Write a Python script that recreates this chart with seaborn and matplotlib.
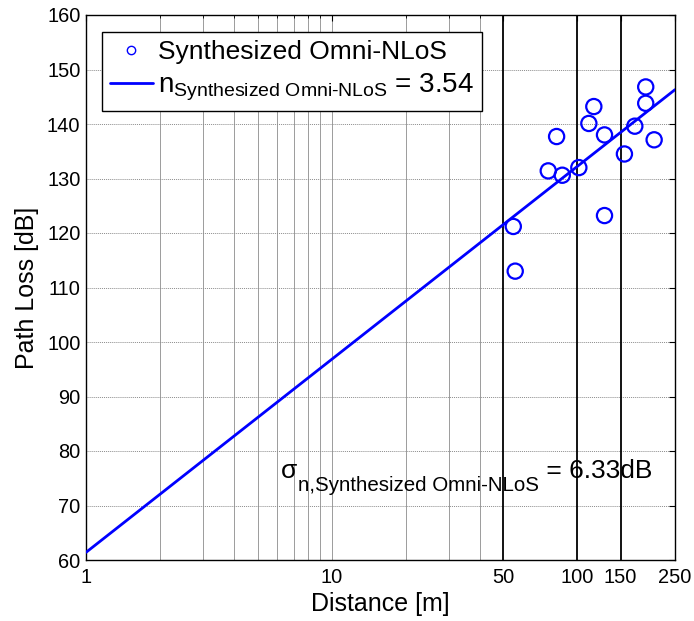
import numpy as np
import pandas as pd
import matplotlib
matplotlib.use("Agg")
import matplotlib.pyplot as plt
import seaborn as sns
from matplotlib.lines import Line2D
from matplotlib.ticker import FixedLocator, NullFormatter

# ---- data ----
distance_m = [54.9, 55.9, 76.2, 82.4, 86.9, 101.5, 111.5, 116.8, 129.1, 129.1,
              155.6, 171.5, 190.0, 190.0, 205.6]
path_loss_db = [121.2, 113.0, 131.4, 137.7, 130.6, 132.0, 140.1, 143.2, 138.0, 123.2,
                134.5, 139.6, 143.8, 146.8, 137.1]
fit_distance = [1, 250]
fit_path_loss = [61.4, 146.3]
x_ticks = [1, 10, 50, 100, 150, 250]
x_minor = [2, 3, 4, 5, 6, 7, 8, 9, 20, 30, 40]
y_ticks = [60, 70, 80, 90, 100, 110, 120, 130, 140, 150, 160]
black_lines = [50, 100, 150]

sns.set_theme(style="white")
plt.rcParams['font.family'] = ['Liberation Sans', 'DejaVu Sans']
plt.rcParams['mathtext.fontset'] = 'custom'
plt.rcParams['mathtext.rm'] = 'Liberation Sans'
plt.rcParams['mathtext.it'] = 'Liberation Sans:italic'
plt.rcParams['mathtext.bf'] = 'Liberation Sans:bold'
for k in ['text.color', 'axes.labelcolor', 'xtick.color', 'ytick.color', 'axes.edgecolor']:
    plt.rcParams[k] = 'black'

fig = plt.figure(figsize=(6.94, 6.21), dpi=100)
ax = fig.add_axes([86/694, 1-560/621, 589/694, 545/621])

pts = pd.DataFrame({"d": distance_m, "pl": path_loss_db})
fit = pd.DataFrame({"d": fit_distance, "pl": fit_path_loss})

ax.set_xscale('log')
ax.set_xlim(1, 250)
ax.set_ylim(60, 160)

# grid
for v in x_minor + [10]:
    ax.axvline(v, color='#8c8c8c', lw=0.6, zorder=0)
for h in y_ticks[1:-1]:
    ax.axhline(h, color='#8c8c8c', lw=0.7, ls=(0, (1, 1)), zorder=0)
for v in black_lines:
    ax.axvline(v, color='black', lw=1.3, zorder=1)

sns.lineplot(data=fit, x="d", y="pl", ax=ax, color=(0, 0, 1), lw=2.0, zorder=3, legend=False)
sns.scatterplot(data=pts, x="d", y="pl", ax=ax, marker='o', s=120, facecolor='none',
                edgecolor=(0, 0, 1), linewidth=1.6, zorder=4, legend=False)

ax.xaxis.set_major_locator(FixedLocator(x_ticks))
ax.xaxis.set_minor_locator(FixedLocator(x_minor))
ax.xaxis.set_minor_formatter(NullFormatter())
ax.set_xticklabels([str(t) for t in x_ticks])
ax.set_yticks(y_ticks)
ax.tick_params(axis='both', which='major', direction='in', length=4, width=0.8,
               top=True, right=True, labelsize=14.4, colors='black')
ax.tick_params(axis='x', which='major', pad=6)
ax.tick_params(axis='y', which='major', pad=4)
ax.tick_params(axis='both', which='minor', direction='in', length=2, width=0.6,
               top=True, right=True)
for s in ax.spines.values():
    s.set_color('black')
    s.set_linewidth(1.0)

ax.set_xlabel('Distance [m]', fontsize=18, labelpad=3)
ax.set_ylabel('Path Loss [dB]', fontsize=18, labelpad=6)

handles = [
    Line2D([], [], ls='none', marker='o', markersize=6, markerfacecolor='none',
           markeredgecolor=(0, 0, 1), markeredgewidth=1.0),
    Line2D([], [], color=(0, 0, 1), lw=2.0),
]
labels = ['Synthesized Omni-NLoS',
          r'$\mathregular{n_{\text{Synthesized Omni-NLoS}}}$ = 3.54']
leg = ax.legend(handles, labels, loc='upper left', bbox_to_anchor=(0.027, 0.969),
                borderaxespad=0, fontsize=19, frameon=True, fancybox=False,
                edgecolor='black', framealpha=1, handlelength=1.63, handletextpad=0.2,
                borderpad=0.3, labelspacing=0.3)
leg.get_texts()[1].set_fontsize(20)
leg.get_frame().set_linewidth(1.0)

# sigma annotation: main symbol, subscript, value (chained)
t1 = ax.text(6.2, 75.1, '\u03c3', fontsize=19, ha='left', va='baseline', zorder=5)
t2 = ax.annotate('n,Synthesized Omni-NLoS', xy=(1, 0), xycoords=t1,
                 xytext=(0.5, -8.5), textcoords='offset points',
                 fontsize=14.8, ha='left', va='bottom', zorder=5)
t3 = ax.annotate(' = 6.33dB', xy=(1, 0), xycoords=(t2, t1),
                 xytext=(0, 0), textcoords='offset points',
                 fontsize=19, ha='left', va='bottom', zorder=5)

fig.savefig('out.png', dpi=100, facecolor='white')
